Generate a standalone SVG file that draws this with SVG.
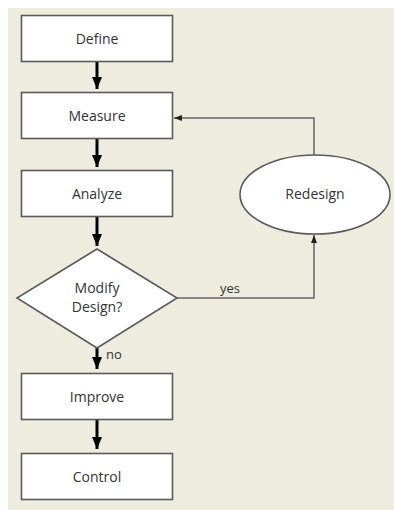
<svg xmlns="http://www.w3.org/2000/svg" width="394" height="510" viewBox="0 0 394 510">
  <defs>
    <style>
      .bg { fill: #EEEBDF; }
      .node { fill: #FFFFFF; stroke: #5A5A5A; stroke-width: 1.6; }
      .label { font-family: "Open Sans", "Liberation Sans", sans-serif; font-size: 14px; fill: #333333; text-anchor: middle; }
      .small { font-family: "Open Sans", "Liberation Sans", sans-serif; font-size: 13px; fill: #333333; }
      .flow { stroke: #000000; stroke-width: 3; fill: none; }
      .thin { stroke: #666666; stroke-width: 1.5; fill: none; }
    </style>
    <marker id="bigArrow" viewBox="0 0 12 10" refX="12" refY="5" markerWidth="12" markerHeight="10" markerUnits="userSpaceOnUse" orient="auto">
      <path d="M0,0 L12,5 L0,10 Z" fill="#000000"/>
    </marker>
    <marker id="smallArrow" viewBox="0 0 8 6" refX="8" refY="3" markerWidth="8" markerHeight="6" markerUnits="userSpaceOnUse" orient="auto">
      <path d="M0,0 L8,3 L0,6 Z" fill="#222222"/>
    </marker>
  </defs>
  <rect class="bg" x="8" y="8" width="386" height="502"/>

  <g id="connectors">
    <line class="flow" x1="97" y1="62" x2="97" y2="89" marker-end="url(#bigArrow)"/>
    <line class="flow" x1="97" y1="139" x2="97" y2="167" marker-end="url(#bigArrow)"/>
    <line class="flow" x1="97" y1="217" x2="97" y2="246" marker-end="url(#bigArrow)"/>
    <line class="flow" x1="97" y1="348" x2="97" y2="369" marker-end="url(#bigArrow)"/>
    <line class="flow" x1="97" y1="420" x2="97" y2="449" marker-end="url(#bigArrow)"/>
    <polyline class="thin" points="176,298 314,298 314,235" marker-end="url(#smallArrow)"/>
    <polyline class="thin" points="314,155 314,118 174,118" marker-end="url(#smallArrow)"/>
    <text class="small" x="220" y="293">yes</text>
    <text class="small" x="106" y="359">no</text>
  </g>

  <g id="define">
    <rect class="node" x="21.5" y="15.5" width="151" height="46"/>
    <text class="label" x="97" y="44">Define</text>
  </g>
  <g id="measure">
    <rect class="node" x="21.5" y="92.5" width="151" height="46"/>
    <text class="label" x="97" y="121">Measure</text>
  </g>
  <g id="analyze">
    <rect class="node" x="21.5" y="170.5" width="151" height="46"/>
    <text class="label" x="97" y="199">Analyze</text>
  </g>
  <g id="modify-design">
    <polygon class="node" points="97,249 177,298 97,348 17,298"/>
    <text class="label" x="97" y="293">Modify</text>
    <text class="label" x="97" y="312">Design?</text>
  </g>
  <g id="improve">
    <rect class="node" x="21.5" y="373.5" width="151" height="46"/>
    <text class="label" x="97" y="402">Improve</text>
  </g>
  <g id="control">
    <rect class="node" x="21.5" y="453.5" width="151" height="46"/>
    <text class="label" x="97" y="482">Control</text>
  </g>
  <g id="redesign">
    <ellipse class="node" cx="315" cy="194.5" rx="75" ry="39.5"/>
    <text class="label" x="315" y="199">Redesign</text>
  </g>
</svg>
